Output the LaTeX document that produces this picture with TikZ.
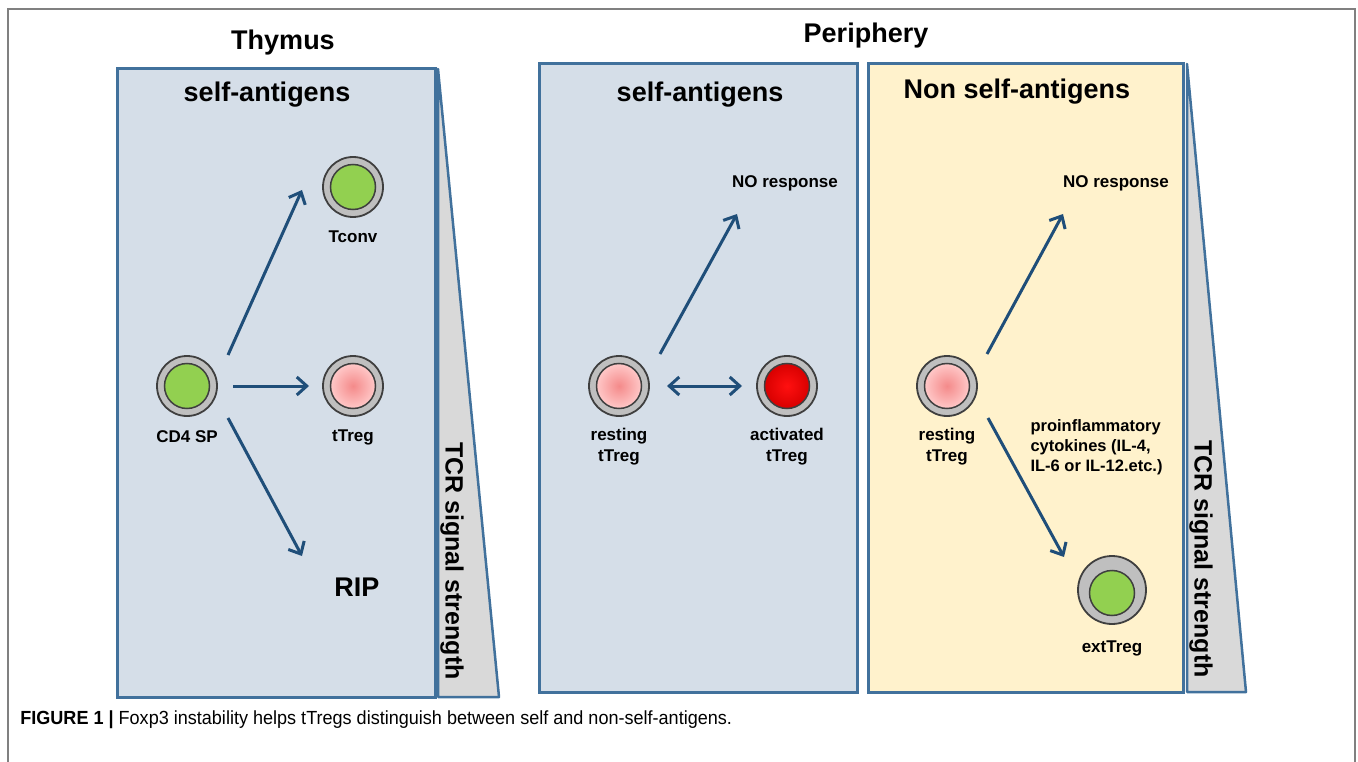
\documentclass[tikz,border=0pt]{standalone}
\usepackage{fontspec}
\setmainfont{Liberation Sans}
\usetikzlibrary{arrows.meta}

\definecolor{panelblue}{HTML}{D5DEE8}
\definecolor{panelcream}{HTML}{FFF2CC}
\definecolor{edgeblue}{HTML}{41719C}
\definecolor{arrowblue}{HTML}{1F4E79}
\definecolor{wedgegray}{HTML}{D9D9D9}
\definecolor{ringgray}{HTML}{BFBFBF}
\definecolor{ringline}{HTML}{3F3F3F}
\definecolor{cellgreen}{HTML}{92D050}
\definecolor{pinkmid}{HTML}{F48A8A}
\definecolor{pinkrim}{HTML}{FFC8C8}
\definecolor{redmid}{HTML}{FF1010}
\definecolor{redrim}{HTML}{D80000}
\definecolor{framegray}{HTML}{808080}

\newcommand\headfont{\fontsize{27}{30}\selectfont\bfseries}
\newcommand\labfont{\fontsize{17}{21}\selectfont\bfseries}

\tikzset{
  panel/.style={draw=edgeblue, line width=3pt},
  wedge/.style={draw=edgeblue, fill=wedgegray, line width=2.5pt, line join=round},
  ring/.style={circle, draw=ringline, fill=ringgray, line width=1.8pt, minimum size=60pt, inner sep=0pt},
  core/.style={circle, draw=ringline, line width=1.5pt, minimum size=45pt, inner sep=0pt},
  greencore/.style={core, fill=cellgreen},
  restcore/.style={core, inner color=pinkmid, outer color=pinkrim},
  actcore/.style={core, inner color=redmid, outer color=redrim},
  lab/.style={font=\labfont, align=center},
  head/.style={font=\headfont},
  flow/.style={draw=arrowblue, line width=3pt, -{Straight Barb[length=10pt,width=18pt]}},
}

\begin{document}
\begin{tikzpicture}[x=1pt, y=-1pt]
\useasboundingbox (0,0) rectangle (1358,762);
\draw[framegray, line width=2pt] (8,762) -- (8,9) -- (1355,9) -- (1355,762);

\node[head] (thymus) at (283,43) {Thymus};
\node[head] (periphery) at (866,36) {Periphery};

\fill[panelblue] (117,69) rectangle (435,697);
\draw[panel] (117,69) rectangle (435,697);
\fill[panelblue] (539,64) rectangle (857,692);
\draw[panel] (539,64) rectangle (857,692);
\fill[panelcream] (868,64) rectangle (1183,692);
\draw[panel] (868,64) rectangle (1183,692);

\draw[wedge] (438,69) -- (438,697) -- (499,697) -- cycle;
\draw[wedge] (1187,64) -- (1187,692) -- (1246,692) -- cycle;
\node[font=\fontsize{25}{28}\selectfont\bfseries, rotate=-90] (tcr1) at (452,561) {TCR signal strength};
\node[font=\fontsize{25}{28}\selectfont\bfseries, rotate=-90] (tcr2) at (1201,559) {TCR signal strength};

\node[head] (self1) at (267,95) {self-antigens};
\node[head] (self2) at (700,95) {self-antigens};
\node[head] (nonself) at (1017,92) {Non self-antigens};

% thymus
\node[ring] (cd4) at (187,386) {};
\node[greencore] at (cd4) {};
\node[ring] (tconv) at (353,187) {};
\node[greencore] at (tconv) {};
\node[ring] (ttreg) at (353,386) {};
\node[restcore] at (ttreg) {};
\node[lab] at (187,437) {CD4 SP};
\node[lab] at (353,237) {Tconv};
\node[lab] at (353,437) {tTreg};
\node[head] (rip) at (357,587) {RIP};

\draw[flow] ([shift={(41,-31)}]cd4.center) -- ([shift={(-51,3)}]tconv.center);
\draw[flow] ([shift={(46,0)}]cd4.center) -- ([shift={(-44,0)}]ttreg.center);
\draw[flow] ([shift={(41,32)}]cd4.center) -- ([shift={(-55,-31)}]rip.center);

% periphery, self
\node[ring] (rest1) at (619,386) {};
\node[restcore] at (rest1) {};
\node[ring] (act) at (787,386) {};
\node[actcore] at (act) {};
\node[lab] at (619,447) {resting\\tTreg};
\node[lab] at (787,447) {activated\\tTreg};
\node[lab] (nores1) at (785,183) {NO response};

\draw[flow] ([shift={(41,-32)}]rest1.center) -- ([shift={(-48,31)}]nores1.center);
\draw[flow, {Straight Barb[length=10pt,width=18pt]}-{Straight Barb[length=10pt,width=18pt]}] ([shift={(48,0)}]rest1.center) -- ([shift={(-45,0)}]act.center);

% periphery, non self
\node[ring] (rest2) at (947,386) {};
\node[restcore] at (rest2) {};
\node[lab] at (947,447) {resting\\tTreg};
\node[lab] (nores2) at (1116,183) {NO response};
\node[ring, minimum size=68pt] (ext) at (1112,590) {};
\node[greencore] at (1112,593) {};
\node[lab] at (1112,648) {extTreg};
\node[lab, align=left, anchor=north west, font=\fontsize{16.5}{20}\selectfont\bfseries] (cyto) at (1027,416) {proinflammatory\\cytokines (IL-4,\\IL-6 or IL-12.etc.)};

\draw[flow] ([shift={(40,-32)}]rest2.center) -- ([shift={(-53,31)}]nores2.center);
\draw[flow] ([shift={(41,32)}]rest2.center) -- ([shift={(-48,-33)}]ext.center);

\node[anchor=west, font=\fontsize{19}{22}\selectfont, xscale=0.95] (caption) at (17,720) {\textbf{FIGURE 1 |} Foxp3 instability helps tTregs distinguish between self and non-self-antigens.};
\end{tikzpicture}
\end{document}
